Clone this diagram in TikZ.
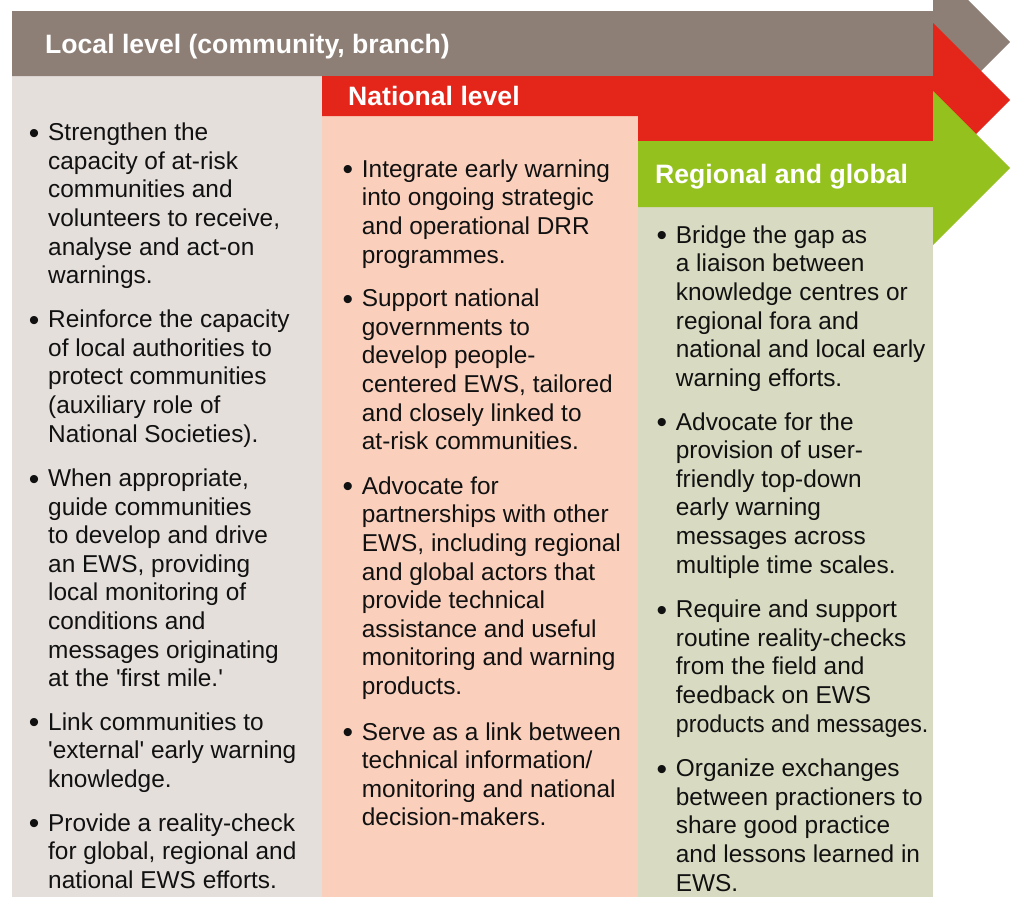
\documentclass[tikz,border=0pt]{standalone}
\usepackage{fontspec}
\usepackage{graphicx}
\setmainfont{Liberation Sans}[Ligatures=TeXOff]
\definecolor{gbar}{HTML}{8E7F76}
\definecolor{rbar}{HTML}{E3251A}
\definecolor{vbar}{HTML}{95C11F}
\definecolor{gpan}{HTML}{E4DFDB}
\definecolor{rpan}{HTML}{FAD0BD}
\definecolor{vpan}{HTML}{D8DAC1}
\definecolor{txt}{HTML}{111111}
\newcommand\bul{\llap{\raisebox{-2.6pt}{\fontsize{30pt}{30pt}\selectfont\textbullet}\hspace{8.8pt}}}
\newcommand\bodyfnt{\fontsize{24.4pt}{28.6pt}\selectfont}
\newcommand\headfnt{\fontsize{26.6pt}{30pt}\selectfont\bfseries}
\tikzset{
  bodytext/.style={anchor=base west, inner sep=0pt, font=\bodyfnt, text=txt},
  headtext/.style={anchor=base west, inner sep=0pt, font=\headfnt, text=white}
}
\begin{document}
\begin{tikzpicture}[x=1pt,y=-1pt]
\useasboundingbox (0,0) rectangle (1016,897);
\begin{scope}
\clip (0,0) rectangle (1016,897);
% panels
\fill[gpan] (12,76) rectangle (322,897);
\fill[rpan] (322,116) rectangle (638,897);
\fill[vpan] (638,207) rectangle (933,897);
% arrows
\fill[gbar] (12,11) -- (933,11) -- (933,-35) -- (1010,42) -- (933,119) -- (933,76) -- (12,76) -- cycle;
\fill[rbar] (322,76) -- (933,76) -- (933,23) -- (1010,100) -- (933,177) -- (933,141) -- (638,141) -- (638,116) -- (322,116) -- cycle;
\fill[vbar] (638,141) -- (933,141) -- (933,91) -- (1010,168) -- (933,245) -- (933,207) -- (638,207) -- cycle;
\end{scope}
% headers
\node[headtext] (hlocal) at (45,53) {Local level (community, branch)};
\node[headtext] (hnat) at (348,105) {National level};
\node[headtext] (hreg) at (655,183) {Regional and global};
% column 1
\node[bodytext] (l1) at (48,140.7) {\begin{tabular}[t]{@{}l@{}}\bul Strengthen the\\capacity of at-risk\\communities and\\volunteers to receive,\\analyse and act-on\\warnings.\end{tabular}};
\node[bodytext] (l2) at (48,327.7) {\begin{tabular}[t]{@{}l@{}}\bul Reinforce the capacity\\of local authorities to\\protect communities\\(auxiliary role of\\National Societies).\end{tabular}};
\node[bodytext] (l3) at (48,486.5) {\begin{tabular}[t]{@{}l@{}}\bul When appropriate,\\guide communities\\to develop and drive\\an EWS, providing\\local monitoring of\\conditions and\\messages originating\\at the 'first mile.'\end{tabular}};
\node[bodytext] (l4) at (48,730.2) {\begin{tabular}[t]{@{}l@{}}\bul Link communities to\\'external' early warning\\knowledge.\end{tabular}};
\node[bodytext] (l5) at (48,831) {\begin{tabular}[t]{@{}l@{}}\bul Provide a reality-check\\for global, regional and\\national EWS efforts.\end{tabular}};
% column 2
\node[bodytext] (n1) at (361.7,177.3) {\begin{tabular}[t]{@{}l@{}}\bul Integrate early warning\\into ongoing strategic\\and operational DRR\\programmes.\end{tabular}};
\node[bodytext] (n2) at (361.7,306.7) {\begin{tabular}[t]{@{}l@{}}\bul Support national\\governments to\\develop people-\\centered EWS, tailored\\and closely linked to\\at-risk communities.\end{tabular}};
\node[bodytext] (n3) at (361.7,494.3) {\begin{tabular}[t]{@{}l@{}}\bul Advocate for\\partnerships with other\\EWS, including regional\\and global actors that\\provide technical\\assistance and useful\\monitoring and warning\\products.\end{tabular}};
\node[bodytext] (n4) at (361.7,740) {\begin{tabular}[t]{@{}l@{}}\bul Serve as a link between\\technical information/\\monitoring and national\\decision-makers.\end{tabular}};
% column 3
\node[bodytext] (r1) at (675.7,243.3) {\begin{tabular}[t]{@{}l@{}}\bul Bridge the gap as\\a liaison between\\knowledge centres or\\regional fora and\\national and local early\\warning efforts.\end{tabular}};
\node[bodytext] (r2) at (675.7,430) {\begin{tabular}[t]{@{}l@{}}\bul Advocate for the\\provision of user-\\friendly top-down\\early warning\\messages across\\multiple time scales.\end{tabular}};
\node[bodytext] (r3) at (675.7,617.7) {\begin{tabular}[t]{@{}l@{}}\bul Require and support\\routine reality-checks\\from the field and\\feedback on EWS\\\scalebox{0.95}[1]{products and messages.}\end{tabular}};
\node[bodytext] (r4) at (675.7,776.7) {\begin{tabular}[t]{@{}l@{}}\bul Organize exchanges\\between practioners to\\share good practice\\and lessons learned in\\EWS.\end{tabular}};
\end{tikzpicture}
\end{document}
